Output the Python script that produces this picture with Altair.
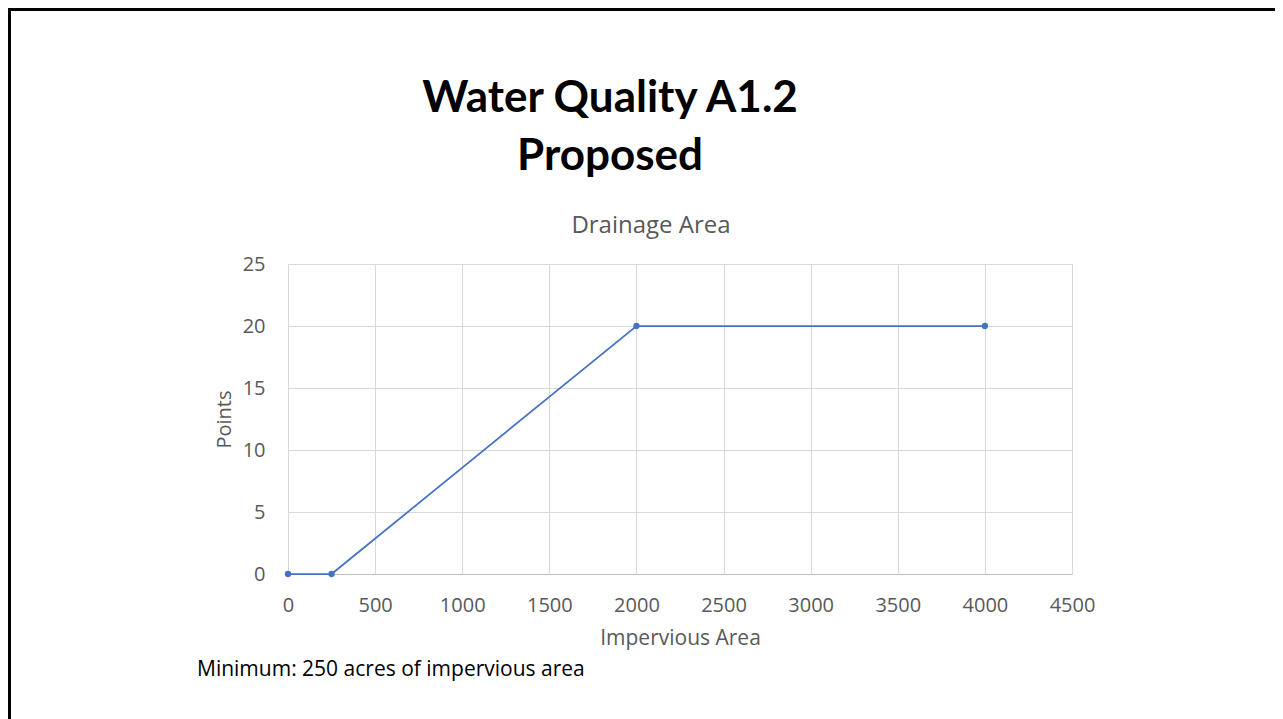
import altair as alt
import pandas as pd

impervious_area = [0, 250, 2000, 4000]
points = [0, 0, 20, 20]
x_ticks = [0, 500, 1000, 1500, 2000, 2500, 3000, 3500, 4000, 4500]
y_ticks = [0, 5, 10, 15, 20, 25]

title_line1 = "Water Quality A1.2"
title_line2 = "Proposed"
chart_title = "Drainage Area"
x_title = "Impervious Area"
y_title = "Points"
footnote = "Minimum: 250 acres of impervious area"

FONT = "Open Sans"
TFONT = "Lato"
GRAY = "#595959"
df = pd.DataFrame({"x": impervious_area, "y": points})

x_enc = alt.X("x:Q", scale=alt.Scale(domain=[0, 4500], nice=False),
              axis=alt.Axis(values=x_ticks, format="d", title=x_title, ticks=False, labelPadding=21,
                            titlePadding=12, labelFontSize=20, titleFontSize=21,
                            labelColor=GRAY, titleColor=GRAY,
                            labelFont=FONT, titleFont=FONT, titleFontWeight="normal",
                            gridColor="#d9d9d9", domainColor="#bfbfbf", labelFlush=False))
y_enc = alt.Y("y:Q", scale=alt.Scale(domain=[0, 25], nice=False),
              axis=alt.Axis(values=y_ticks, format="d", title=y_title, ticks=False, labelPadding=23,
                            titlePadding=8, labelFontSize=20, titleFontSize=20,
                            labelColor=GRAY, titleColor=GRAY,
                            labelFont=FONT, titleFont=FONT, titleFontWeight="normal",
                            gridColor="#d9d9d9", domain=False, labelFlush=False))

line = alt.Chart(df).mark_line(color="#4472c4", strokeWidth=1.75).encode(x=x_enc, y=y_enc)
pts = alt.Chart(df).mark_circle(color="#4472c4", size=40, opacity=1).encode(x="x:Q", y="y:Q")

def label(text, x, y, size, weight="normal", color="black", align="center", font=FONT):
    return alt.Chart(pd.DataFrame({"t": [text]})).mark_text(
        font=font, fontSize=size, fontWeight=weight, color=color, align=align,
        baseline="alphabetic", clip=False
    ).encode(text="t:N", x=alt.value(x), y=alt.value(y))

t1 = label(title_line1, 322, -152, 44, "bold", font=TFONT)
t2 = label(title_line2, 322, -94, 44, "bold", font=TFONT)
t3 = label(chart_title, 363, -31, 24, color=GRAY)
t4 = label(footnote, -91, 412, 21, align="left")

border_top = alt.Chart(pd.DataFrame({"a": [0]})).mark_rule(color="black", strokeWidth=3).encode(
    x=alt.value(-280), x2=alt.value(1000), y=alt.value(-254.5))
border_left = alt.Chart(pd.DataFrame({"a": [0]})).mark_rule(color="black", strokeWidth=3).encode(
    x=alt.value(-278.5), y=alt.value(-256), y2=alt.value(465))

chart = alt.layer(line, pts, t1, t2, t3, t4, border_top, border_left).properties(
    width=784, height=310,
    autosize=alt.AutoSizeParams(type="none"),
    padding={"left": 280, "top": 256, "right": 203, "bottom": 150},
).configure_view(stroke=None).configure(background="white")

chart.save("out.html", embed_options={"renderer": "svg", "actions": False})
